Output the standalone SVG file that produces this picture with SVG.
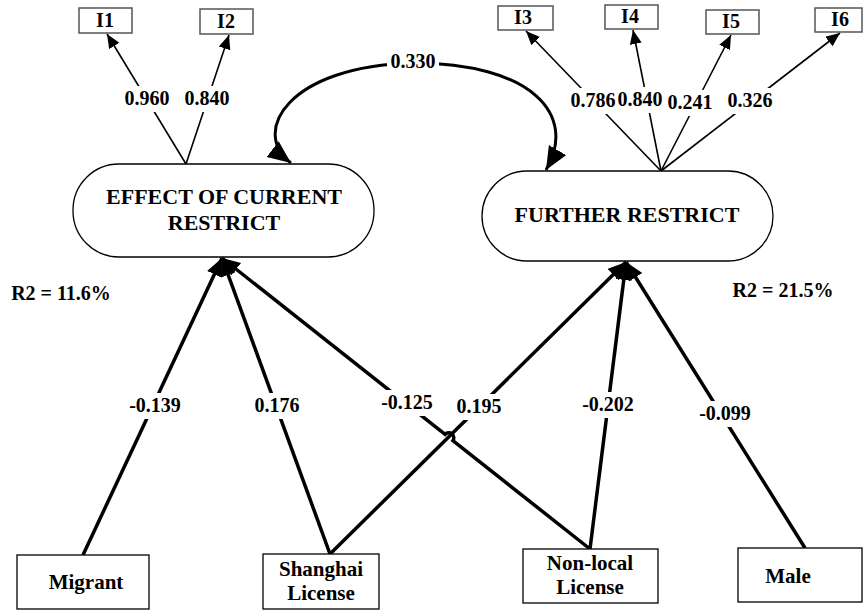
<svg xmlns="http://www.w3.org/2000/svg" width="863" height="611" viewBox="0 0 863 611">
<style>
text{font-family:"Liberation Serif","Times New Roman",serif;font-weight:bold;fill:#000;text-anchor:middle}
.box{fill:#fff;stroke:#000;stroke-width:1.3}
.ibox{fill:#fff;stroke:#555;stroke-width:1.5}
.lat{fill:#fff;stroke:#000;stroke-width:1.3}
.thin{fill:none;stroke:#000;stroke-width:1.6}
.thick{fill:none;stroke:#000;stroke-width:3.5}
.cov{fill:none;stroke:#000;stroke-width:3}
.bg{fill:#fff}
.lbl{font-size:20px}
.nm{font-size:21px}
.big{font-size:22px}
</style>
<defs>
<marker id="ah" markerUnits="userSpaceOnUse" markerWidth="16" markerHeight="14" refX="14" refY="6" orient="auto">
<path d="M0,0 L14,6 L0,12 Z" fill="#000"/>
</marker>
<marker id="ahb" markerUnits="userSpaceOnUse" markerWidth="20" markerHeight="20" refX="18" refY="8" orient="auto">
<path d="M0,0 L18,8 L0,16 Z" fill="#000"/>
</marker>
<marker id="ahc" markerUnits="userSpaceOnUse" markerWidth="26" markerHeight="24" refX="23" refY="10" orient="auto-start-reverse">
<path d="M0,0 L23,10 L0,20 Z" fill="#000"/>
</marker>
</defs>
<rect width="863" height="611" fill="#fff"/>

<g id="connectors">
<line class="thin" x1="186" y1="164" x2="107" y2="34" marker-end="url(#ah)"/>
<line class="thin" x1="186" y1="164" x2="229" y2="35" marker-end="url(#ah)"/>
<line class="thin" x1="661" y1="171" x2="526" y2="31" marker-end="url(#ah)"/>
<line class="thin" x1="661" y1="171" x2="633" y2="30" marker-end="url(#ah)"/>
<line class="thin" x1="661" y1="171" x2="731" y2="35" marker-end="url(#ah)"/>
<line class="thin" x1="661" y1="171" x2="840" y2="33" marker-end="url(#ah)"/>
<path class="cov" d="M291,163 C250,132 288,66 413,63 C532,63 578,115 546,170" marker-start="url(#ahc)" marker-end="url(#ahc)"/>
<line class="thick" x1="83" y1="555" x2="222" y2="258" marker-end="url(#ahb)"/>
<line class="thick" x1="330" y1="554" x2="222" y2="258" marker-end="url(#ahb)"/>
<line class="thick" x1="330" y1="554" x2="626" y2="262" marker-end="url(#ahb)"/>
<path class="thick" d="M590,549 L452.9,440.6 A5,5 0 0 0 445.1,434.4 L222,258" marker-end="url(#ahb)"/>
<line class="thick" x1="590" y1="549" x2="626" y2="262" marker-end="url(#ahb)"/>
<line class="thick" x1="805" y1="548" x2="626" y2="262" marker-end="url(#ahb)"/>
</g>

<g id="labels">
<rect class="bg" x="123" y="86" width="48" height="26"/><text class="lbl" x="147" y="105">0.960</text>
<rect class="bg" x="183" y="86" width="48" height="26"/><text class="lbl" x="207" y="105">0.840</text>
<rect class="bg" x="569" y="88" width="48" height="26"/><text class="lbl" x="593" y="107">0.786</text>
<rect class="bg" x="617" y="87" width="46" height="26"/><text class="lbl" x="640" y="106">0.840</text>
<rect class="bg" x="666" y="90" width="48" height="26"/><text class="lbl" x="690" y="109">0.241</text>
<rect class="bg" x="726" y="88" width="48" height="26"/><text class="lbl" x="750" y="107">0.326</text>
<rect class="bg" x="387" y="52" width="52" height="22"/><text class="lbl" x="413" y="68">0.330</text>
<rect class="bg" x="127" y="393" width="56" height="26"/><text class="lbl" x="155" y="412">-0.139</text>
<rect class="bg" x="253" y="393" width="48" height="26"/><text class="lbl" x="277" y="412">0.176</text>
<rect class="bg" x="379" y="390" width="56" height="26"/><text class="lbl" x="407" y="409">-0.125</text>
<rect class="bg" x="455" y="394" width="48" height="26"/><text class="lbl" x="479" y="413">0.195</text>
<rect class="bg" x="580" y="392" width="56" height="26"/><text class="lbl" x="608" y="411">-0.202</text>
<rect class="bg" x="697" y="401" width="56" height="26"/><text class="lbl" x="725" y="420">-0.099</text>
<text class="lbl" x="61" y="300">R2 = 11.6%</text>
<text class="lbl" x="783" y="297">R2 = 21.5%</text>
</g>

<g id="I1"><rect class="ibox" x="79" y="8" width="53" height="25"/><text class="lbl" x="105" y="27">I1</text></g>
<g id="I2"><rect class="ibox" x="200" y="9" width="53" height="25"/><text class="lbl" x="226" y="28">I2</text></g>
<g id="I3"><rect class="ibox" x="498" y="6" width="55" height="24"/><text class="lbl" x="523" y="24">I3</text></g>
<g id="I4"><rect class="ibox" x="605" y="5" width="53" height="24"/><text class="lbl" x="630" y="23">I4</text></g>
<g id="I5"><rect class="ibox" x="706" y="10" width="53" height="24"/><text class="lbl" x="731" y="28">I5</text></g>
<g id="I6"><rect class="ibox" x="815" y="8" width="47" height="24"/><text class="lbl" x="840" y="26">I6</text></g>

<g id="effect"><rect class="lat" x="73" y="164" width="301" height="93" rx="46" ry="46"/><text class="big" x="224" y="204">EFFECT OF CURRENT</text><text class="big" x="224" y="230">RESTRICT</text></g>
<g id="further"><rect class="lat" x="482" y="171" width="291" height="90" rx="45" ry="45"/><text class="big" x="627" y="222">FURTHER RESTRICT</text></g>

<g id="migrant"><rect class="box" x="17" y="555" width="132" height="54"/><text class="nm" x="86" y="589">Migrant</text></g>
<g id="shanghai"><rect class="box" x="263" y="554" width="116" height="55"/><text class="nm" x="321" y="576">Shanghai</text><text class="nm" x="321" y="600">License</text></g>
<g id="nonlocal"><rect class="box" x="523" y="549" width="135" height="54"/><text class="nm" x="590" y="570">Non-local</text><text class="nm" x="590" y="594">License</text></g>
<g id="male"><rect class="box" x="738" y="548" width="124" height="54"/><text class="nm" x="788" y="583">Male</text></g>
</svg>
